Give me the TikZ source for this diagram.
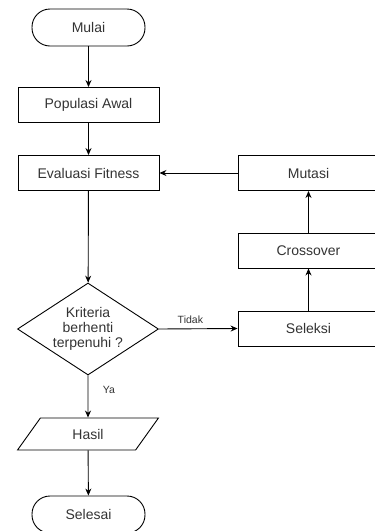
\documentclass[tikz,border=0pt]{standalone}
\usepackage{fontspec}
\setmainfont{Liberation Sans}
\usetikzlibrary{shapes.geometric,arrows.meta}
\tikzset{
  base/.style={draw=black,line width=0.9pt,text=black!80,align=center,
    font=\fontsize{14}{15}\selectfont},
  terminal/.style={base,rounded corners=18pt,minimum width=113pt,minimum height=37pt},
  process/.style={base,rectangle,minimum width=141pt,minimum height=35pt},
  decision/.style={base,diamond,aspect=1.53,inner sep=0pt,minimum width=141pt,minimum height=92pt},
  io/.style={base,trapezium,trapezium stretches=true,trapezium left angle=54,
    trapezium right angle=126,minimum width=141pt,minimum height=32pt,inner sep=0pt},
  flow/.style={-{Stealth[length=7pt,width=6pt]},line width=0.9pt},
  lbl/.style={text=black!80,font=\fontsize{10.5}{12}\selectfont}
}
\begin{document}
\begin{tikzpicture}[x=1pt,y=1pt]
\useasboundingbox (0,0) rectangle (375,-531);
% kolom kiri
\node[terminal] (mulai) at (88.5,-27.5) {Mulai};
\node[process] (populasi) at (88.5,-105) {Populasi Awal};
\node[process] (evaluasi) at (88.5,-173) {Evaluasi Fitness};
\node[decision] (kriteria) at (88,-329) {Kriteria\\berhenti\\terpenuhi ?};
\node[io] (hasil) at (88,-434) {Hasil};
\node[terminal] (selesai) at (88.5,-514.5) {Selesai};
% kolom kanan
\node[process] (mutasi) at (308.5,-173) {Mutasi};
\node[process] (crossover) at (308.5,-250.5) {Crossover};
\node[process] (seleksi) at (308.5,-328.5) {Seleksi};

\draw[flow] (mulai) -- (populasi);
\draw[flow] (populasi) -- (evaluasi);
\draw[flow] (evaluasi) -- (kriteria);
\draw[flow] (kriteria.east) -- node[lbl,pos=0.4,above=1pt] {Tidak} (seleksi.west);
\draw[flow] (seleksi) -- (crossover);
\draw[flow] (crossover) -- (mutasi);
\draw[flow] (mutasi) -- (evaluasi);
\draw[flow] (kriteria.south) -- node[lbl,pos=0.35,right=11pt] {Ya} (hasil.north);
\draw[flow] (hasil) -- (selesai);
\end{tikzpicture}
\end{document}
